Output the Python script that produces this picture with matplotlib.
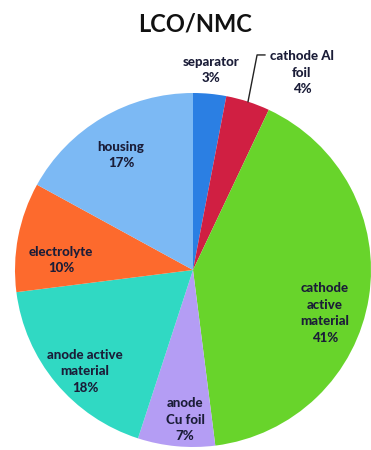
import numpy as np
import matplotlib.pyplot as plt

plt.rcParams["font.family"] = "Lato"

parts = ['separator', 'cathode Al\nfoil', 'cathode\nactive\nmaterial', 'anode\nCu foil',
         'anode active\nmaterial', 'electrolyte', 'housing']
shares = [3, 4, 41, 7, 18, 10, 17]
colors = ['#2b7fe3', '#d01f42', '#68d42b', '#b49df4', '#30d9c3', '#fd6a2d', '#7cb9f4']
# label centres in axes data units (pie radius = 1)
label_xy = [(0.101, 1.13), (0.612, 1.113), (0.742, -0.243), (-0.045, -0.847),
            (-0.607, -0.571), (-0.742, 0.056), (-0.404, 0.65)]

fig = plt.figure(figsize=(3.71, 4.5), dpi=100)
ax = fig.add_axes([15 / 371, 3 / 450, 356 / 371, 354 / 450])

wedges, _ = ax.pie(shares, colors=colors, startangle=90, counterclock=False,
                   radius=1.0, center=(0, 0), wedgeprops=dict(linewidth=0))
ax.set_aspect('auto')
ax.set_xlim(-1, 1)
ax.set_ylim(-1, 1)
ax.axis('off')

txt = '#1b1d38'
for name, val, (x, y) in zip(parts, shares, label_xy):
    ax.text(x, y, '%s\n%d%%' % (name, val), ha='center', va='center',
            fontsize=9.5, fontweight='black', color=txt, linespacing=1.45,
            clip_on=False)

# leader line for the Al foil slice
w = wedges[1]
mid = np.deg2rad((w.theta1 + w.theta2) / 2)
x0, y0 = np.cos(mid), np.sin(mid)
ax.plot([x0, 0.36, 0.404], [y0, 1.215, 1.215], color='#222222', lw=1.0, clip_on=False)

fig.text(195 / 371, 1 - 24 / 450, 'LCO/NMC', ha='center', va='center',
         fontsize=17, fontweight='bold', color='#111111')

fig.savefig('out.png', dpi=100, facecolor='white')
